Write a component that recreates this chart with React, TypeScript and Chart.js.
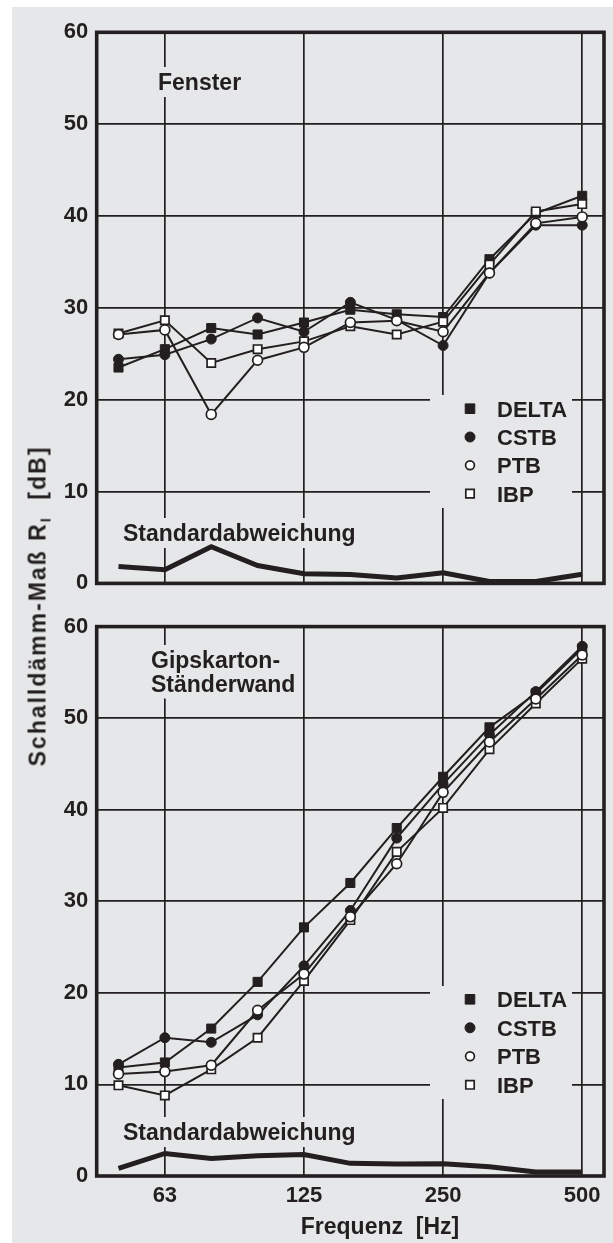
import { useEffect, useRef } from 'react';
import { Chart, registerables } from 'chart.js';

Chart.register(...registerables);

// ---------- data ----------
const categories = ['50', '63', '80', '100', '125', '160', '200', '250', '315', '400', '500'];
const xTickLabels = ['63', '125', '250', '500'];
const seriesNames = ['DELTA', 'CSTB', 'PTB', 'IBP'];

// Fenster
const fensterDelta = [23.5, 25.5, 27.8, 27.1, 28.4, 29.8, 29.3, 29.0, 35.3, 40.3, 42.2];
const fensterCstb = [24.4, 24.9, 26.6, 28.9, 27.4, 30.6, 28.7, 25.9, 33.8, 39.0, 39.0];
const fensterPtb = [27.1, 27.6, 18.4, 24.3, 25.7, 28.4, 28.6, 27.4, 33.8, 39.2, 39.9];
const fensterIbp = [27.2, 28.65, 24.0, 25.5, 26.35, 28.0, 27.1, 28.5, 34.7, 40.5, 41.3];
const fensterStd = [1.84, 1.5, 4.0, 1.94, 1.05, 0.97, 0.58, 1.15, 0.2, 0.2, 1.0];

// Gipskarton-Ständerwand
const wandDelta = [11.85, 12.4, 16.1, 21.2, 27.15, 32.0, 38.0, 43.6, 49.0, 52.7, 57.6];
const wandCstb = [12.2, 15.1, 14.6, 17.6, 22.95, 29.0, 36.9, 42.8, 48.2, 52.9, 57.85];
const wandPtb = [11.15, 11.4, 12.1, 18.1, 22.05, 28.3, 34.1, 41.9, 47.4, 52.1, 56.9];
const wandIbp = [9.9, 8.8, 11.65, 15.1, 21.3, 27.95, 35.4, 40.2, 46.6, 51.6, 56.5];
const wandStd = [0.83, 2.46, 1.92, 2.2, 2.35, 1.38, 1.3, 1.35, 1.0, 0.43, 0.43];

// ---------- styles ----------
const INK = '#231f20';
const BG = '#e6e7e8';
const FONT = '"Liberation Sans", Arial, Helvetica, sans-serif';

type Style = { pointStyle: string; radius: number; fill: string; bw: number; order: number };
const styles: Record<string, Style> = {
  DELTA: { pointStyle: 'rect', radius: 6.4, fill: INK, bw: 1, order: 3 },
  CSTB: { pointStyle: 'circle', radius: 5.0, fill: INK, bw: 1, order: 1 },
  PTB: { pointStyle: 'circle', radius: 4.9, fill: '#ffffff', bw: 1.7, order: 0 },
  IBP: { pointStyle: 'rect', radius: 5.9, fill: '#ffffff', bw: 1.7, order: 2 },
};

const toXY = (arr: number[]) => arr.map((v, i) => ({ x: i, y: v }));

function buildDatasets(values: number[][], std: number[]) {
  const ds: any[] = seriesNames.map((name, k) => {
    const s = styles[name];
    return {
      label: name,
      data: toXY(values[k]),
      borderColor: INK,
      borderWidth: 2,
      pointStyle: s.pointStyle,
      pointRadius: s.radius,
      pointBackgroundColor: s.fill,
      pointBorderColor: INK,
      pointBorderWidth: s.bw,
      order: s.order,
      tension: 0,
      fill: false,
    };
  });
  ds.push({
    label: 'Standardabweichung',
    data: toXY(std),
    borderColor: INK,
    borderWidth: 5,
    pointRadius: 0,
    borderJoinStyle: 'miter',
    order: 5,
    tension: 0,
    fill: false,
  });
  return ds;
}

type TextItem = { text: string; x: number; y: number; size: number; align?: CanvasTextAlign; box?: boolean };

const decorPlugin = {
  id: 'decor',
  beforeDatasetsDraw(chart: any, _args: any, opts: any) {
    const ctx: CanvasRenderingContext2D = chart.ctx;
    const ca = chart.chartArea;
    ctx.save();
    // boxes behind labels (hide the grid)
    ctx.fillStyle = BG;
    (opts.texts as TextItem[]).forEach((t) => {
      if (!t.box) return;
      ctx.font = `bold ${t.size}px ${FONT}`;
      const w = ctx.measureText(t.text).width;
      ctx.fillRect(t.x - 6, t.y - 23, w + 12, 30);
    });
    const lg = opts.legend;
    ctx.fillRect(lg.box[0], lg.box[1], lg.box[2], lg.box[3]);

    // frame
    ctx.strokeStyle = INK;
    ctx.lineWidth = 3.6;
    ctx.strokeRect(ca.left, ca.top, ca.right - ca.left, ca.bottom - ca.top);

    // texts
    ctx.fillStyle = INK;
    ctx.textBaseline = 'alphabetic';
    (opts.texts as TextItem[]).forEach((t) => {
      ctx.font = `bold ${t.size}px ${FONT}`;
      ctx.textAlign = t.align || 'left';
      ctx.fillText(t.text, t.x, t.y);
    });

    // legend
    ctx.textAlign = 'left';
    ctx.font = `bold 22px ${FONT}`;
    seriesNames.forEach((name, k) => {
      const s = styles[name];
      const cy = lg.firstY + k * lg.step;
      const cx = lg.markerX;
      ctx.fillStyle = s.fill;
      ctx.strokeStyle = INK;
      ctx.lineWidth = s.bw;
      ctx.beginPath();
      if (s.pointStyle === 'rect') {
        const h = s.fill === INK ? 4.8 : 4.2;
        ctx.rect(cx - h, cy - h, 2 * h, 2 * h);
      } else {
        const r = s.fill === INK ? 5.0 : 4.4;
        ctx.arc(cx, cy, r, 0, Math.PI * 2);
      }
      ctx.fill();
      ctx.stroke();
      ctx.fillStyle = INK;
      ctx.fillText(name, lg.textX, cy + 8);
    });
    ctx.restore();
  },
};

function makeConfig(values: number[][], std: number[], opts: any) {
  return {
    type: 'line',
    data: { datasets: buildDatasets(values, std) },
    plugins: [decorPlugin],
    options: {
      animation: false,
      responsive: false,
      events: [],
      layout: { padding: opts.padding },
      plugins: {
        legend: { display: false },
        tooltip: { enabled: false },
        title: { display: false },
        decor: { texts: opts.texts, legend: opts.legend },
      },
      scales: {
        x: {
          type: 'linear',
          min: -0.47,
          max: 10.47,
          afterBuildTicks: (s: any) => {
            s.ticks = xTickLabels.map((l) => ({ value: categories.indexOf(l) }));
          },
          afterFit: (s: any) => {
            s.height = opts.xHeight;
          },
          border: { display: false },
          grid: { color: INK, lineWidth: 1.7, drawTicks: false },
          ticks: {
            display: opts.showX,
            padding: 7,
            color: INK,
            font: { family: FONT, size: 22, weight: 'bold' },
            callback: (v: number) => categories[v],
          },
        },
        y: {
          min: 0,
          max: 60,
          afterFit: (s: any) => {
            s.width = 96.7;
          },
          border: { display: false },
          grid: { color: INK, lineWidth: 1.7, drawTicks: false },
          ticks: {
            stepSize: 10,
            padding: 8.4,
            color: INK,
            font: { family: FONT, size: 22, weight: 'bold' },
          },
        },
      },
    },
  };
}

function Panel({ values, std, opts, width, height, top }: any) {
  const ref = useRef<HTMLCanvasElement | null>(null);
  useEffect(() => {
    if (!ref.current) return;
    const chart = new Chart(ref.current, makeConfig(values, std, opts) as any);
    return () => chart.destroy();
  }, []);
  return (
    <canvas
      ref={ref}
      width={width}
      height={height}
      style={{ position: 'absolute', left: 0, top, width, height, display: 'block' }}
    />
  );
}

export default function App() {
  const topOpts = {
    padding: { top: 32.3, right: 9, bottom: 16.7, left: 0 },
    xHeight: 0,
    showX: false,
    texts: [
      { text: 'Fenster', x: 158, y: 90, size: 23, box: true },
      { text: 'Standardabweichung', x: 123, y: 541, size: 23, box: true },
    ],
    legend: { markerX: 470, textX: 497, firstY: 408.7, step: 28.3, box: [430, 395, 142, 113] },
  };
  const bottomOpts = {
    padding: { top: 17.7, right: 9, bottom: 0, left: 0 },
    xHeight: 67,
    showX: true,
    texts: [
      { text: 'Gipskarton-', x: 151, y: 63, size: 23, box: true },
      { text: 'Ständerwand', x: 151, y: 86.5, size: 23, box: true },
      { text: 'Standardabweichung', x: 123, y: 535, size: 23, box: true },
      { text: 'Frequenz  [Hz]', x: 380, y: 629, size: 23, align: 'center' as CanvasTextAlign },
    ],
    legend: { markerX: 470, textX: 497, firstY: 394.3, step: 28.5, box: [430, 381, 142, 113] },
  };
  return (
    <div style={{ position: 'absolute', left: 0, top: 0, width: 613, height: 1243, background: '#ffffff', overflow: 'hidden' }}>
      <div style={{ position: 'absolute', left: 12, top: 7, width: 601, height: 1236, background: BG }} />
      <Panel
        values={[fensterDelta, fensterCstb, fensterPtb, fensterIbp]}
        std={fensterStd}
        opts={topOpts}
        width={613}
        height={605}
        top={0}
      />
      <Panel
        values={[wandDelta, wandCstb, wandPtb, wandIbp]}
        std={wandStd}
        opts={bottomOpts}
        width={613}
        height={638}
        top={605}
      />
      <div
        style={{
          position: 'absolute',
          left: 39,
          top: 606,
          transform: 'translate(-50%, -50%) rotate(-90deg)',
          whiteSpace: 'pre',
          font: `bold 23px ${FONT}`,
          letterSpacing: '2px',
          color: INK,
          lineHeight: '26px',
        }}
      >
        {'Schalldämm-Maß R'}
        <span style={{ fontSize: '14px', position: 'relative', top: '5px' }}>I</span>
        {'  [dB]'}
      </div>
    </div>
  );
}
